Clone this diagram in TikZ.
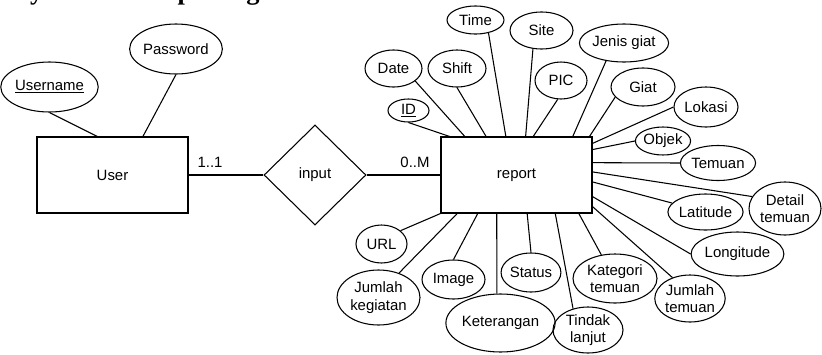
\documentclass[tikz,border=0pt]{standalone}
\usepackage{fontspec}
\setmainfont{Liberation Sans}
\newfontfamily\titlefont{Liberation Serif}
\usetikzlibrary{shapes.geometric,calc}
\begin{document}
\begin{tikzpicture}[x=0.75pt,y=-0.75pt,
  line width=0.8pt,
  every node/.style={font=\fontsize{11.2}{13.2}\selectfont},
  attr/.style 2 args={ellipse,draw,inner sep=0pt,align=center,minimum width=#1*0.75pt,minimum height=#2*0.75pt},
  entity/.style={rectangle,draw,inner sep=0pt,minimum width=151*0.75pt,minimum height=76*0.75pt},
  rel/.style={diamond,draw,inner sep=0pt,minimum width=102*0.75pt,minimum height=100*0.75pt},
  lbl/.style={inner sep=0pt}]
\useasboundingbox (0,0) rectangle (822,354);
\begin{scope}
\clip (0,0) rectangle (822,354);
\node[anchor=base west,inner sep=0pt,font=\titlefont\bfseries\fontsize{19.8}{22}\selectfont] (title) at (-27.6,-0.5) {Entity Relationship\hspace{6pt} Diagram};
\end{scope}

% entities and relation
\node[entity] (user) at (112.5,175) {User};
\node[rel] (input) at (315,175) {input};
\node[entity] (report) at (516.5,175) {report};
\draw (user.east) -- (input.west);
\draw (input.east) -- (report.west);
\node[lbl] (c1) at (210,162) {1..1};
\node[lbl] (c2) at (415,162) {0..M};

% user attributes
\node[attr={89}{50}] (username) at (49.5,87) {\underline{Username}};
\node[attr={90}{50}] (password) at (176,49) {Password};
\draw (username.south) -- ($(user.north west)!0.40!(user.north east)$);
\draw (password.south) -- ($(user.north west)!0.70!(user.north east)$);

% report attributes
\node[attr={41}{23}] (id) at (408.5,110.5) {\underline{ID}};
\node[attr={57}{37}] (date) at (393.5,68.5) {Date};
\node[attr={58}{37}] (shift) at (457,68.5) {Shift};
\node[attr={57}{28}] (time) at (475.5,20) {Time};
\node[attr={63}{37}] (site) at (541.5,30.5) {Site};
\node[attr={52}{37}] (pic) at (561,80.5) {PIC};
\node[attr={72}{38}] (jenis) at (624,43) {Jenis giat};
\node[attr={64}{38}] (giat) at (643,87) {Giat};
\node[attr={64}{40}] (lokasi) at (706,107) {Lokasi};
\node[attr={54}{28}] (objek) at (663,141) {Objek};
\node[attr={64}{35}] (temuan) at (718,163) {Temuan};
\node[attr={72}{53}] (detail) at (785,208.5) {Detail\\temuan};
\node[attr={63}{36}] (latitude) at (705.5,212) {Latitude};
\node[attr={77}{44}] (longitude) at (737.5,254) {Longitude};
\node[attr={70}{47}] (jt) at (690,298.5) {Jumlah\\temuan};
\node[attr={84}{49}] (kat) at (615,278.5) {Kategori\\temuan};
\node[attr={70}{46}] (tl) at (588,330) {Tindak\\lanjut};
\node[attr={95}{58}] (ket) at (500.5,323) {Keterangan};
\node[attr={58}{39}] (status) at (531,272.5) {Status};
\node[attr={63}{39}] (image) at (453.5,279.5) {Image};
\node[attr={83}{55}] (jk) at (378.5,297.5) {Jumlah\\kegiatan};
\node[attr={51}{38}] (url) at (381.5,244) {URL};

% top edge
\draw (id.south) -- ($(report.north west)!0.06!(report.north east)$);
\draw (date.-30) -- ($(report.north west)!0.16!(report.north east)$);
\draw (shift.south) -- ($(report.north west)!0.30!(report.north east)$);
\draw (time.-45) -- ($(report.north west)!0.43!(report.north east)$);
\draw (site.-115) -- ($(report.north west)!0.56!(report.north east)$);
\draw (pic.-100) -- ($(report.north west)!0.61!(report.north east)$);
\draw (jenis.-135) -- ($(report.north west)!0.87!(report.north east)$);
\draw (giat.-160) -- ($(report.north west)!0.98!(report.north east)$);
% right edge
\draw (lokasi.west) -- ($(report.north east)!0.09!(report.south east)$);
\draw (objek.west) -- ($(report.north east)!0.17!(report.south east)$);
\draw (temuan.west) -- ($(report.north east)!0.34!(report.south east)$);
\draw (detail.160) -- ($(report.north east)!0.46!(report.south east)$);
\draw (latitude.165) -- ($(report.north east)!0.59!(report.south east)$);
\draw (longitude.west) -- ($(report.north east)!0.78!(report.south east)$);
\draw (jt.130) -- ($(report.north east)!0.91!(report.south east)$);
% bottom edge
\draw (url.35) -- (report.south west);
\draw (jk.50) -- ($(report.south west)!0.11!(report.south east)$);
\draw (image.north) -- ($(report.south west)!0.245!(report.south east)$);
\draw (ket.97) -- ($(report.south west)!0.37!(report.south east)$);
\draw (status.north) -- ($(report.south west)!0.57!(report.south east)$);
\draw (tl.125) -- ($(report.south west)!0.755!(report.south east)$);
\draw (kat.120) -- ($(report.south west)!0.91!(report.south east)$);
\end{tikzpicture}
\end{document}
